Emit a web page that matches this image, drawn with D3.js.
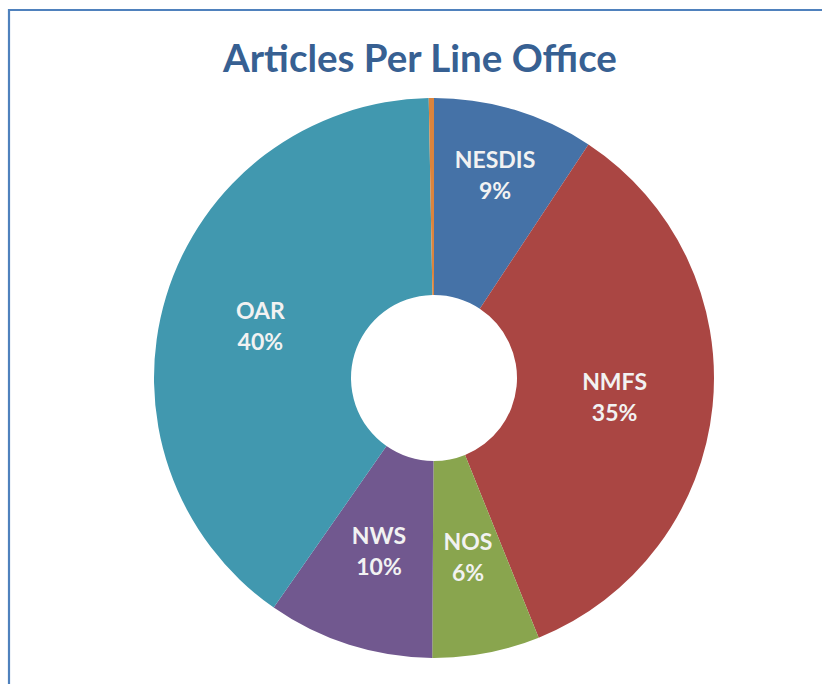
<!DOCTYPE html>
<html>
<head>
  <meta charset="UTF-8">
  <title>Articles Per Line Office</title>
  <script src="https://d3js.org/d3.v7.min.js"></script>
  <style>
    body {
      margin: 0;
      background: #ffffff;
      font-family: Lato, "Open Sans", sans-serif;
    }
    .title {
      fill: #376092;
      font-weight: bold;
      font-size: 38.5px;
    }
    .slice-label {
      fill: #f2f2f2;
      font-weight: bold;
      font-size: 23px;
    }
  </style>
</head>
<body>
  <div id="chart"></div>
  <script>
    // percent share of articles
    const offices = ["NESDIS", "NMFS", "NOS", "NWS", "OAR", "Other"];
    const shares = [9.3, 34.6, 6.2, 9.6, 40.0, 0.3];
    const colours = ["#4572a7", "#aa4643", "#89a54e", "#71588f", "#4198af", "#db843d"];

    const width = 822;
    const height = 684;
    const cx = 434, cy = 378;
    const outerR = 280, innerR = 83;

    // Excel pushed the wide NESDIS label further out than the rest
    const labelRadius = { NESDIS: 212 };

    const data = offices.map((name, i) => ({ name: name, value: shares[i], colour: colours[i] }));
    const total = d3.sum(shares);

    const svg = d3.select("#chart")
      .append("svg")
      .attr("width", width)
      .attr("height", height);

    // chart area border (runs off the right and bottom of the picture)
    svg.append("path")
      .attr("d", `M9,${height} V10 H${width}`)
      .attr("fill", "none")
      .attr("stroke", "#4f81bd")
      .attr("stroke-width", 2.2);

    svg.append("text")
      .attr("class", "title")
      .attr("x", 420)
      .attr("y", 72)
      .attr("text-anchor", "middle")
      .text("Articles Per Line Office");

    const pie = d3.pie()
      .value(d => d.value)
      .sort(null);

    const arc = d3.arc()
      .innerRadius(innerR)
      .outerRadius(outerR);

    const arcs = pie(data);

    const g = svg.append("g")
      .attr("transform", `translate(${cx}, ${cy})`);

    g.selectAll(".slice")
      .data(arcs)
      .enter()
      .append("path")
      .attr("class", "slice")
      .attr("d", arc)
      .attr("fill", d => d.data.colour);

    const pct = d => Math.round(d.data.value / total * 100) + "%";
    const midR = (innerR + outerR) / 2;

    const labels = g.selectAll(".slice-label")
      .data(arcs.filter(d => d.data.value / total >= 0.02))
      .enter()
      .append("text")
      .attr("class", "slice-label")
      .attr("text-anchor", "middle");

    labels.append("tspan")
      .attr("x", 0)
      .attr("dy", "-0.2em")
      .text(d => d.data.name);
    labels.append("tspan")
      .attr("x", 0)
      .attr("dy", "1.35em")
      .text(d => pct(d));

    labels.each(function(d) {
      const box = this.getBBox();
      const mid = (d.startAngle + d.endAngle) / 2;
      const r = labelRadius[d.data.name] || midR;
      const x = r * Math.sin(mid);
      const y = -r * Math.cos(mid) - (box.y + box.height / 2);
      d3.select(this).attr("transform", `translate(${x}, ${y})`);
    });
  </script>
</body>
</html>
